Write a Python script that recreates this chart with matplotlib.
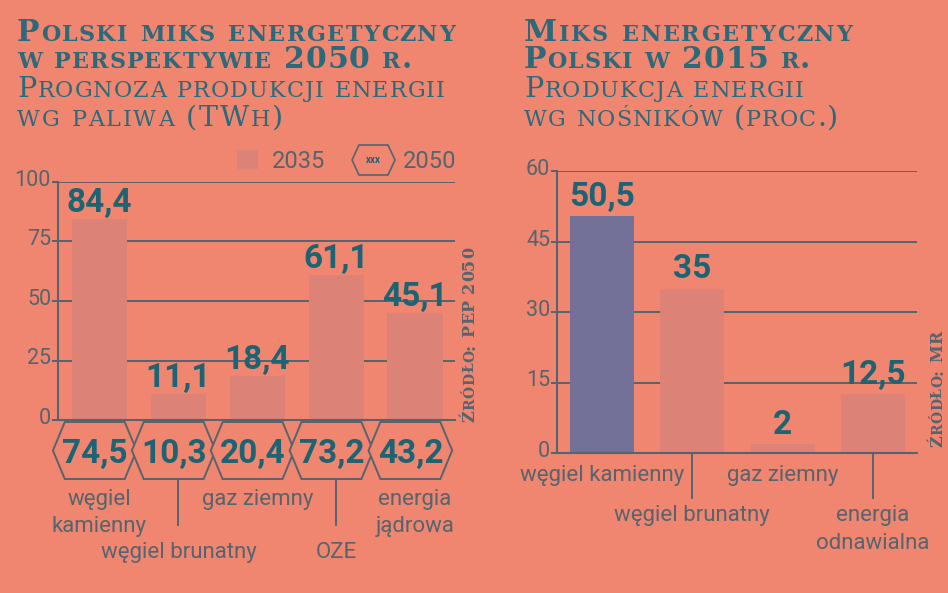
import matplotlib
matplotlib.use('Agg')
import matplotlib.pyplot as plt
from matplotlib.patches import Polygon, Rectangle
from matplotlib.lines import Line2D
from matplotlib.transforms import blended_transform_factory, ScaledTranslation
from matplotlib.font_manager import FontProperties

# ---------------- data ----------------
left_categories = ['węgiel\nkamienny', 'węgiel brunatny', 'gaz ziemny', 'OZE', 'energia\njądrowa']
left_2035 = [84.4, 11.1, 18.4, 61.1, 45.1]
left_2050 = [74.5, 10.3, 20.4, 73.2, 43.2]
left_yticks = [0, 25, 50, 75, 100]
left_series = ['2035', '2050']

right_categories = ['węgiel kamienny', 'węgiel brunatny', 'gaz ziemny', 'energia\nodnawialna']
right_values = [50.5, 35, 2, 12.5]
right_yticks = [0, 15, 30, 45, 60]

title_left = ['Polski miks energetyczny', 'w perspektywie 2050 r.',
              'Prognoza produkcji energii', 'wg paliwa (TWh)']
title_right = ['Miks energetyczny', 'Polski w 2015 r.',
               'Produkcja energii', 'wg nośników (proc.)']
source_left = 'Źródło: PEP 2050'
source_right = 'Źródło: MR'

# ---------------- style ----------------
W, H, DPI = 948, 593, 100
BG = '#F0866F'
BAR = '#DC8276'
PURPLE = '#737198'
TEAL = '#1C6474'
TITLE = '#2A6A7A'
GRAY = '#56646E'

plt.rcParams['font.family'] = ['Roboto', 'DejaVu Sans']

fig = plt.figure(figsize=(W / DPI, H / DPI), dpi=DPI, facecolor=BG)
renderer = fig.canvas.get_renderer()


def fx(px):
    return px / W


def fy(py):
    return 1 - py / H


def fmt(v):
    s = f'{v:.1f}'.replace('.', ',')
    if s.endswith(',0'):
        s = s[:-2]
    return s


def adv(ch, size, weight, family):
    prop = FontProperties(family=family, weight=weight, size=size)
    w1 = renderer.get_text_width_height_descent('|' + ch + '|', prop, ismath=False)[0]
    w0 = renderer.get_text_width_height_descent('||', prop, ismath=False)[0]
    return w1 - w0


def smallcaps(x, y, s, big, small, color, weight='bold', family='DejaVu Serif',
              target=None, rotation=0, min_track=1.0):
    items = []
    for ch in s:
        if ch.islower():
            items.append((ch.upper(), small))
        else:
            items.append((ch, big))
    widths = [adv(c, sz, weight, family) for c, sz in items]
    track = 0.0
    if target is not None and len(items) > 1:
        track = max((target - sum(widths)) / (len(items) - 1), min_track)
    pos = 0.0
    for (c, sz), w in zip(items, widths):
        if c != ' ':
            if rotation == 0:
                fig.text(fx(x + pos), fy(y), c, fontsize=sz, fontweight=weight,
                         family=family, color=color, ha='left', va='baseline')
            else:
                fig.text(fx(x), fy(y - pos), c, fontsize=sz, fontweight=weight,
                         family=family, color=color, ha='left', va='baseline',
                         rotation=90, rotation_mode='anchor')
        pos += w + track


def hexagon(cx, cy, half_w, half_h, inset, transform, z, lw=1.4):
    pts = [(cx - half_w, cy), (cx - half_w + inset, cy + half_h),
           (cx + half_w - inset, cy + half_h), (cx + half_w, cy),
           (cx + half_w - inset, cy - half_h), (cx - half_w + inset, cy - half_h)]
    return Polygon(pts, closed=True, facecolor=BG, edgecolor=GRAY, lw=lw,
                   transform=transform, clip_on=False, zorder=z)


def style_axes(ax, yticks):
    ax.set_facecolor('none')
    for s in ['top', 'right']:
        ax.spines[s].set_visible(False)
    for s in ['left', 'bottom']:
        ax.spines[s].set_color(GRAY)
        ax.spines[s].set_linewidth(1.5)
    ax.set_yticks(yticks)
    ax.set_ylim(yticks[0], yticks[-1])
    ax.set_xticks([])
    ax.set_axisbelow(True)
    ax.yaxis.grid(True, color=GRAY, lw=1.4)
    ax.tick_params(axis='y', length=4, width=1.4, color=GRAY, labelsize=15.5,
                   labelcolor=GRAY, pad=1)
    off = ScaledTranslation(0, 4 / DPI, fig.dpi_scale_trans)
    for lab in ax.get_yticklabels():
        lab.set_transform(lab.get_transform() + off)


# ---------------- titles ----------------
smallcaps(17, 41, title_left[0], 21.5, 16, TITLE, target=438)
smallcaps(17, 68, title_left[1], 21.5, 16, TITLE, target=383)
smallcaps(17, 97, title_left[2], 20.5, 16, TITLE, weight='normal', target=428)
smallcaps(17, 126, title_left[3], 20.5, 16, TITLE, weight='normal', target=266)

smallcaps(524, 41, title_right[0], 21.5, 16, TITLE, target=328)
smallcaps(524, 68, title_right[1], 21.5, 16, TITLE, target=255)
smallcaps(524, 97, title_right[2], 20.5, 16, TITLE, weight='normal', target=280)
smallcaps(524, 126, title_right[3], 20.5, 16, TITLE, weight='normal', target=313)

# ---------------- left chart ----------------
ax1 = fig.add_axes([fx(58), fy(420), (455 - 58) / W, (420 - 182) / H])
style_axes(ax1, left_yticks)
ax1.set_xlim(-0.526, 4.506)
xl = list(range(len(left_2035)))
ax1.bar(xl, left_2035, width=0.70, color=BAR, zorder=2)
for i, v in zip(xl, left_2035):
    ax1.annotate(fmt(v), (i, v), xytext=(0, 7), textcoords='offset pixels',
                 ha='center', va='baseline', fontsize=24, fontweight='bold',
                 color=TEAL, zorder=4)

tr1 = blended_transform_factory(ax1.transData, ax1.transAxes)
ah = 420 - 182
hx_top, hx_bot = (420 - 422) / ah, (420 - 479) / ah
hx_mid = (hx_top + hx_bot) / 2
for i, v in zip(xl, left_2050):
    cx = i - 0.06
    ax1.add_patch(hexagon(cx, hx_mid, 0.53, (hx_top - hx_bot) / 2, 0.15, tr1, 3 + i * 0.1))
    ax1.text(cx, (420 - 463) / ah, fmt(v), transform=tr1, ha='center', va='baseline',
             fontsize=24, fontweight='bold', color=TEAL, zorder=3.05 + i * 0.1, clip_on=False)

for i, cat in enumerate(left_categories):
    lines = cat.split('\n')
    base = 505 if i % 2 == 0 else 558
    for k, ln in enumerate(lines):
        ax1.text(i, (420 - (base + 27 * k)) / ah, ln, transform=tr1, ha='center',
                 va='baseline', fontsize=16, color=GRAY, clip_on=False)
    if i % 2 == 1:
        ax1.add_line(Line2D([i, i], [hx_bot, (420 - 525) / ah], transform=tr1,
                            color=GRAY, lw=1.4, clip_on=False))

# legend
fig.patches.append(Rectangle((fx(237), fy(169)), 21 / W, 19 / H, transform=fig.transFigure,
                             facecolor=BAR, edgecolor='none'))
fig.text(fx(272), fy(168), left_series[0], fontsize=17, color=GRAY, ha='left', va='baseline')
fig.patches.append(hexagon(fx(373.5), fy(160), 21.5 / W, 15 / H, 7 / W, fig.transFigure, 5, lw=1.2))
fig.text(fx(373.5), fy(160), 'xxx', fontsize=7, fontweight='bold', color=TEAL,
         ha='center', va='center', zorder=6)
fig.text(fx(403), fy(168), left_series[1], fontsize=17, color=GRAY, ha='left', va='baseline')

smallcaps(474, 422, source_left, 11.5, 10, GRAY, target=170, rotation=90, min_track=0.5)

# ---------------- right chart ----------------
ax2 = fig.add_axes([fx(557), fy(453), (917 - 557) / W, (453 - 171) / H])
style_axes(ax2, right_yticks)
ax2.set_xlim(-0.498, 3.488)
xr = list(range(len(right_values)))
colors = [PURPLE] + [BAR] * (len(right_values) - 1)
ax2.bar(xr, right_values, width=0.71, color=colors, zorder=2)
for i, v in zip(xr, right_values):
    ax2.annotate(fmt(v), (i, v), xytext=(0, 10), textcoords='offset pixels',
                 ha='center', va='baseline', fontsize=24, fontweight='bold',
                 color=TEAL, zorder=4)

tr2 = blended_transform_factory(ax2.transData, ax2.transAxes)
ah2 = 453 - 171
for i, cat in enumerate(right_categories):
    lines = cat.split('\n')
    base = 481 if i % 2 == 0 else 521
    for k, ln in enumerate(lines):
        ax2.text(i, (453 - (base + 28 * k)) / ah2, ln, transform=tr2, ha='center',
                 va='baseline', fontsize=16, color=GRAY, clip_on=False)
    if i % 2 == 1:
        ax2.add_line(Line2D([i, i], [0, (453 - 498) / ah2], transform=tr2,
                            color=GRAY, lw=1.4, clip_on=False))

smallcaps(942, 447, source_right, 11.5, 10, GRAY, target=107, rotation=90, min_track=0.5)

fig.savefig('out.png', dpi=DPI, facecolor=BG)
